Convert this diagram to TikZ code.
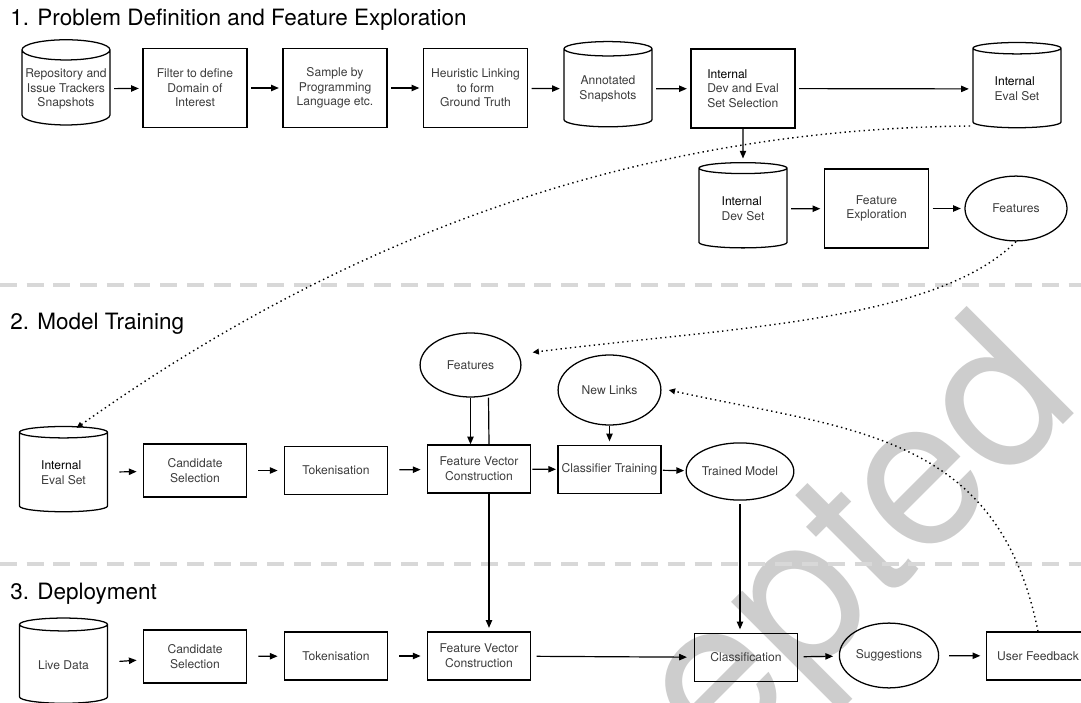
\documentclass[tikz,border=0pt]{standalone}
\usepackage{fontspec}
\setmainfont{TeX Gyre Heros}
\usepackage{tikz}
\usetikzlibrary{arrows.meta,positioning,shapes.geometric,calc}
\definecolor{inkgray}{HTML}{3C3C3C}
\definecolor{rulegray}{HTML}{D8D8D8}
\definecolor{markgray}{HTML}{CDCDCD}
\newcommand{\inhouse}[1]{\textcolor{black}{#1}}
\tikzset{
  stepbox/.style={
    rectangle, draw=black, line width=0.9pt,
    minimum width=2.6cm, minimum height=1.97cm,
    font=\fontsize{8.6}{10.4}\selectfont, text=inkgray, align=center,
    inner sep=1pt
  },
  flatbox/.style={
    rectangle, draw=black, line width=0.9pt,
    minimum width=2.57cm, minimum height=#1,
    font=\fontsize{8.6}{10.4}\selectfont, text=inkgray, align=center,
    inner sep=1pt
  },
  flatbox/.default=1.2cm,
  store/.style={
    cylinder, shape border rotate=90, draw=black, line width=0.9pt,
    aspect=0.24, minimum width=2.2cm, minimum height=2.13cm,
    font=\fontsize{8.6}{10.4}\selectfont, text=inkgray, align=#1,
    inner sep=1pt
  },
  store/.default=center,
  outcome/.style={
    ellipse, draw=black, line width=0.9pt,
    minimum width=2.55cm, minimum height=1.62cm,
    font=\fontsize{8.6}{10.4}\selectfont, text=inkgray, align=center,
    inner sep=0pt
  },
  dataarrow/.style={
    -{Triangle[length=5.5pt,width=4.5pt]}, line width=0.85pt,
    shorten <=2.5pt, shorten >=2.5pt
  },
  gaparrow/.style={
    dataarrow, shorten <=8pt, shorten >=4.5pt
  },
  loopback/.style={
    -{Triangle[length=4.5pt,width=4pt]}, line width=1pt,
    dash pattern=on 1pt off 2.4pt
  },
  sectionrule/.style={
    draw=rulegray, line width=2.2pt, dash pattern=on 12pt off 7pt
  },
  phase/.style={
    anchor=base west, inner sep=0pt, font=\fontsize{16}{19}\selectfont
  },
  watermark/.style={
    rotate=45, anchor=base east, inner sep=0pt, text=markgray,
    font=\fontsize{148}{148}\selectfont
  },
}

\begin{document}
\begin{tikzpicture}[x=0.025cm, y=-0.025cm]
  \useasboundingbox (0,0) rectangle (1081,703);

  % -- stamp behind everything ----------
  \node[watermark] (stamp) at (1084,404) {Accepted};

  % -- phase rules -------------
  \draw[sectionrule] (0,285) -- (1081,285);
  \draw[sectionrule] (0,564) -- (1081,564);

  % -- 1. Problem Definition and Feature Exploration --
  \node[phase] (phaseA) at (10,26) {1. Problem Definition and Feature Exploration};
  \node[store] (repo) at (66,89) {Repository and\\Issue Trackers\\Snapshots};
  \node[stepbox] (filter) at (195,88) {Filter to define\\Domain of\\Interest};
  \node[stepbox] (sample) at (335,88) {Sample by\\Programming\\Language etc.};
  \node[stepbox] (heur) at (475.5,88) {Heuristic Linking\\to form\\Ground Truth};
  \node[store] (annot) at (608,89) {Annotated\\Snapshots};
  \node[stepbox, align=left] (split) at (743,88.5)
    {\inhouse{Internal}\\Dev and Eval\\Set Selection};
  \node[store=left] (evalA) at (1017,89) {\inhouse{Internal}\\Eval Set};
  \node[store=left] (devset) at (743,209) {\inhouse{Internal}\\Dev Set};
  \node[stepbox] (explore) at (876.5,208.5) {Feature\\Exploration};
  \node[outcome] (featA) at (1016,208.5) {Features};

  \draw[dataarrow] (repo) -- (filter);
  \draw[dataarrow] (filter) -- (sample);
  \draw[dataarrow] (sample) -- (heur);
  \draw[dataarrow] (heur) -- (annot);
  \draw[dataarrow] (annot) -- (split);
  \draw[dataarrow] (split) -- (evalA);
  \draw[dataarrow, shorten <=0pt] (split) -- (devset);
  \draw[dataarrow] (devset) -- (explore);
  \draw[dataarrow] (explore) -- (featA);

  % -- 2. Model Training -------
  \node[phase] (phaseB) at (10,329) {2. Model Training};
  \node[outcome, minimum width=2.52cm, minimum height=1.6cm] (featB) at (470.5,365) {Features};
  \node[outcome, minimum width=2.57cm, minimum height=1.75cm] (links) at (609.5,390) {New Links};
  \node[store=left] (evalB) at (63.5,473) {\inhouse{Internal}\\Eval Set};
  \node[flatbox=1.33cm] (candB) at (195,470.5) {Candidate\\Selection};
  \node[flatbox] (tokB) at (336,470.5) {Tokenisation};
  \node[flatbox] (fvcB) at (479,469) {Feature Vector\\Construction};
  \node[flatbox] (train) at (609.5,469.5) {Classifier Training};
  \node[outcome, minimum width=2.6cm, minimum height=1.43cm] (model) at (740,471.5) {Trained Model};

  \draw[gaparrow] (evalB) -- (candB);
  \draw[gaparrow] (candB) -- (tokB);
  \draw[gaparrow] (tokB) -- (fvcB);
  \draw[dataarrow, shorten <=1pt, shorten >=1pt] (fvcB) -- (train);
  \draw[dataarrow, shorten <=1pt, shorten >=1pt] (train) -- (model);
  \draw[dataarrow, shorten <=0pt, shorten >=0pt] (featB) -- (fvcB.north -| featB);
  \draw[dataarrow, shorten <=0pt] (links) -- (train);
  \draw[line width=0.85pt] ([xshift=0.45cm]featB.south) -- ([xshift=0.25cm]fvcB.north);

  % -- 3. Deployment -----------
  \node[phase] (phaseC) at (10,599) {3. Deployment};
  \node[store] (live) at (63.5,665) {Live Data};
  \node[flatbox=1.33cm] (candC) at (195,656.5) {Candidate\\Selection};
  \node[flatbox] (tokC) at (336,656) {Tokenisation};
  \node[flatbox] (fvcC) at (479,656) {Feature Vector\\Construction};
  \node[flatbox] (classify) at (746,657.5) {Classification};
  \node[outcome, minimum width=2.48cm] (suggest) at (889,655.5) {Suggestions};
  \node[flatbox] (feedback) at (1038,656) {User Feedback};

  \draw[gaparrow] (live) -- (candC);
  \draw[gaparrow] (candC) -- (tokC);
  \draw[gaparrow] (tokC) -- (fvcC);
  \draw[dataarrow, shorten <=4pt, shorten >=5pt] (fvcC) -- (classify);
  \draw[dataarrow, shorten <=4pt, shorten >=4pt] (classify) -- (suggest);
  \draw[dataarrow, shorten <=7pt, shorten >=4pt] (suggest) -- (feedback);
  \draw[dataarrow, shorten <=0pt] ([xshift=0.25cm]fvcB.south) -- ([xshift=0.25cm]fvcC.north);
  \draw[dataarrow] (model) -- (classify.north -| model);

  % -- cross-phase hand-overs --
  \draw[loopback] ($(evalA.center)+(-47,37)$) .. controls +(-300,3) and +(300,-213)
    .. ($(evalB.center)+(13,-45)$);
  \draw[loopback] (featA.south) .. controls +(-80,80) and +(200,-25)
    .. ([xshift=0.375cm]featB.15);
  \draw[loopback] (feedback.north) .. controls +(-40,-200) and +(180,40)
    .. ([xshift=0.18cm]links.east);
\end{tikzpicture}
\end{document}
